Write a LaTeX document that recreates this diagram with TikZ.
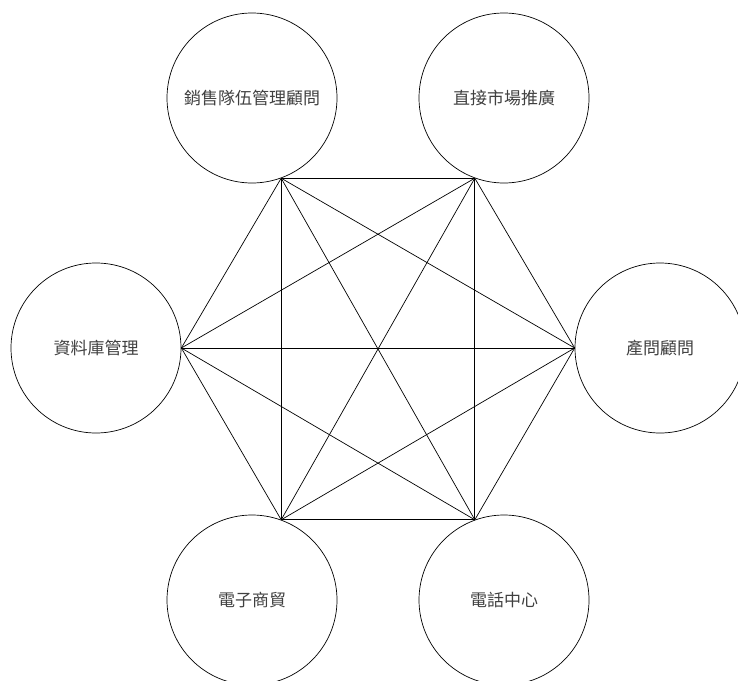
\documentclass[tikz,border=0pt]{standalone}
\usepackage{fontspec}
\newfontfamily\cjk{Noto Sans CJK TC}
\begin{document}
\begin{tikzpicture}[x=1pt,y=-1pt,
  ring/.style={draw, circle, minimum size=170pt, inner sep=0pt, line width=0.7pt, font=\cjk\fontsize{17}{20}\selectfont, text=black!75},
  link/.style={line width=0.7pt}]
\useasboundingbox (0,0) rectangle (738,680);
\clip (0,0) rectangle (738,680);
\node[ring] (tl) at (252,98) {銷售隊伍管理顧問};
\node[ring] (tr) at (504,98) {直接市場推廣};
\node[ring] (l) at (96,348) {資料庫管理};
\node[ring] (r) at (660,348) {產問顧問};
\node[ring] (bl) at (252,600) {電子商貿};
\node[ring] (br) at (504,600) {電話中心};
\coordinate (A) at (tl.-70);
\coordinate (B) at (tr.-110);
\coordinate (C) at (r.180);
\coordinate (D) at (br.110);
\coordinate (E) at (bl.70);
\coordinate (F) at (l.0);
\foreach \p/\q in {A/B,A/C,A/D,A/E,A/F,B/C,B/D,B/E,B/F,C/D,C/E,C/F,D/E,D/F,E/F}
  \draw[link] (\p) -- (\q);
\end{tikzpicture}
\end{document}
